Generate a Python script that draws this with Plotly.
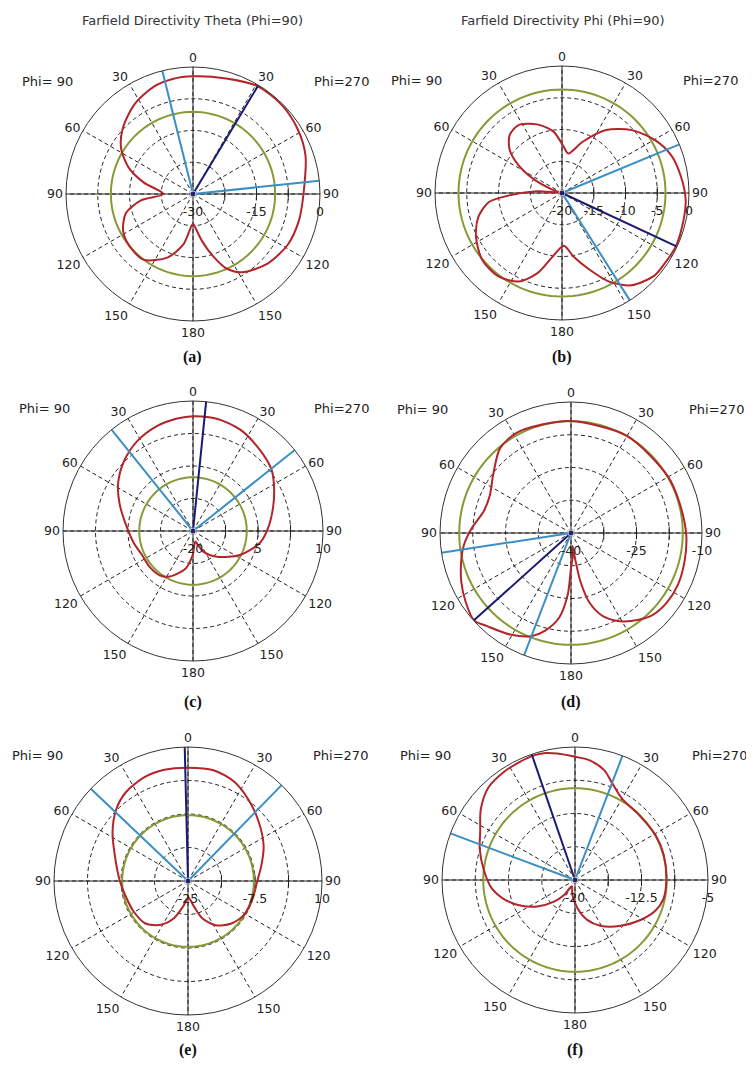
import plotly.graph_objects as go

# ---------------- data (theta in degrees clockwise from top, values in dB) ----------------
# (a) Farfield Directivity Theta (Phi=90)
theta_a = [0, 16, 31, 45, 58, 71, 90, 104, 118, 133, 148, 156, 162, 169, 176, 180, 191, 202, 217, 231,
           242, 254, 263, 270, 283, 292, 302, 313, 327, 340, 350]
db_a = [-2.2, -1.6, -0.3, -0.3, -0.9, -1.9, -3.9, -4.2, -4.6, -5.9, -8.2, -10.8, -14.5, -18.6, -22.0, -23.0,
        -17.8, -13.8, -10.6, -10.6, -11.3, -13.5, -17.6, -23.0, -18.1, -13.7, -10.0, -7.3, -4.7, -3.0, -2.4]
green_a = -10.6
beam_a = [346, 84]
main_a_theta, main_a_db = 31, -0.24
range_a = [-30, 0]
rtick_a = [-30, -22.5, -15, -7.5, 0]
rtext_a = ["-30", "", "-15", "", "0"]

# (b) Farfield Directivity Phi (Phi=90)
theta_b = [2, 9, 22, 35, 48, 60, 71, 82, 93, 101, 115, 125, 132, 143, 152, 160, 170, 178, 189, 197, 206,
           217, 230, 243, 254, 263, 268, 274, 281, 290, 296, 303, 310, 318, 327, 340, 352]
db_b = [-12.7, -13.7, -11.3, -7.9, -5.2, -3.2, -1.8, -1.1, -0.5, -0.4, -0.2, -0.4, -0.5, -1.8, -4.2, -7.1,
        -9.9, -11.7, -9.7, -6.8, -4.5, -3.5, -3.6, -4.8, -6.3, -8.4, -12.1, -16.1, -19.5, -18.1, -15.1,
        -11.7, -9.2, -7.7, -7.3, -8.5, -10.2]
green_b = -3.7
beam_b = [67.5, 147.7]
main_b_theta, main_b_db = 115, -0.2
range_b = [-20, 0]
rtick_b = [-20, -15, -10, -5, 0]
rtext_b = ["-20", "-15", "-10", "-5", "0"]

# (c)
theta_c = [0, 12, 25, 39, 52, 62, 74, 88, 100, 117, 137, 153, 161, 168, 181, 191, 207, 217, 230, 245,
           258, 275, 290, 302, 315, 328, 341, 352]
db_c = [6.5, 6.5, 5.8, 4.3, 3.0, 1.2, -0.8, -2.7, -4.3, -7.8, -11.9, -14.6, -16.7, -17.5, -14.4, -11.2,
        -8.2, -7.2, -7.0, -7.0, -6.1, -4.5, -2.0, 0.4, 2.6, 4.4, 5.6, 6.2]
green_c = -7.6
beam_c = [321.2, 51.5]
main_c_theta, main_c_db = 5.8, 10
range_c = [-20, 10]
rtick_c = [-20, -12.5, -5, 2.5, 10]
rtext_c = ["-20", "", "5", "", "10"]

# (d)
theta_d = [0, 30, 60, 75, 91, 104, 116, 126, 135, 142, 151, 159, 165, 169, 171, 173, 176, 180, 183, 188,
           195, 201, 211, 222, 228, 237, 246, 256, 264, 273, 284, 295, 307, 320, 331, 345]
db_d = [-14.35, -14.3, -14.3, -14.2, -13.6, -13.2, -12.8, -12.9, -13.5, -14.8, -16.9, -19.6, -23.4, -28.7,
        -34.2, -37.0, -34.5, -32.0, -25.9, -20.4, -16.8, -14.7, -12.9, -11.3, -10.1, -11.2, -12.5, -14.1,
        -15.4, -17.3, -19.4, -19.5, -17.7, -14.7, -13.9, -14.3]
green_d = -14.4
beam_d = [261.3, 201]
main_d_theta, main_d_db = 228, -10.1
range_d = [-40, -10]
rtick_d = [-40, -32.5, -25, -17.5, -10]
rtext_d = ["-40", "", "-25", "", "-10"]

# (e)
theta_e = [0, 13, 25, 37, 50, 65, 78, 90, 106, 121, 135, 148, 159, 167, 179, 191, 201, 212, 225, 241,
           257, 270, 289, 303, 315, 325, 337, 348]
db_e = [4.6, 4.7, 3.6, 1.4, -0.9, -3.2, -5.4, -6.9, -7.5, -7.9, -9.2, -11.4, -14.6, -18.2, -20.7, -18.2,
        -14.5, -11.5, -9.3, -8.7, -8.2, -7.2, -4.8, -1.5, 1.5, 3.3, 4.4, 4.7]
green_e = -7.8
beam_e = [313.5, 44.3]
main_e_theta, main_e_db = 358.6, 10
range_e = [-25, 10]
rtick_e = [-25, -16.25, -7.5, 1.25, 10]
rtext_e = ["-25", "", "-7.5", "", "10"]

# (f)
theta_f = [0, 7, 15, 21, 30, 44, 61, 74, 90, 102, 111, 121, 135, 151, 163, 175, 190, 207, 216, 224, 235,
           245, 255, 265, 277, 288, 297, 307, 317, 327, 335, 341, 347, 352]
db_f = [-6.1, -6.4, -7.2, -8.3, -9.4, -9.7, -9.6, -9.6, -9.7, -9.8, -10.3, -11.3, -12.7, -14.1, -15.3,
        -16.8, -18.3, -19.2, -17.9, -16.6, -14.8, -13.2, -11.7, -10.5, -9.6, -8.7, -8.0, -6.7, -5.7, -5.4,
        -5.3, -5.2, -5.3, -5.6]
green_f = -9.65
beam_f = [290.5, 20.9]
main_f_theta, main_f_db = 341, -5
range_f = [-20, -5]
rtick_f = [-20, -16.25, -12.5, -8.75, -5]
rtext_f = ["-20", "", "-12.5", "", "-5"]

ang_vals = [0, 30, 60, 90, 120, 150, 180, 210, 240, 270, 300, 330]
ang_text = ["0", "30", "60", "90", "120", "150", "180", "150", "120", "90", "60", "30"]
captions = ["(a)", "(b)", "(c)", "(d)", "(e)", "(f)"]
col_titles = ["Farfield Directivity Theta (Phi=90)", "Farfield Directivity Phi (Phi=90)"]

# ---------------- layout geometry (pixels, page coordinates) ----------------
OFF = 8                    # page body margin of the html page
W, H = 754 - 2 * OFF, 1070 - 2 * OFF
panels = [
    dict(cx=193, cy=194, R=127, th=theta_a, db=db_a, g=green_a, beam=beam_a, mt=main_a_theta, md=main_a_db,
         rng=range_a, tv=rtick_a, tt=rtext_a, cap_y=357, phiL=(47, 82), phiR=(341, 82)),
    dict(cx=562, cy=193, R=127, th=theta_b, db=db_b, g=green_b, beam=beam_b, mt=main_b_theta, md=main_b_db,
         rng=range_b, tv=rtick_b, tt=rtext_b, cap_y=357, phiL=(416, 80), phiR=(710, 80)),
    dict(cx=193, cy=531, R=130, th=theta_c, db=db_c, g=green_c, beam=beam_c, mt=main_c_theta, md=main_c_db,
         rng=range_c, tv=rtick_c, tt=rtext_c, cap_y=702, phiL=(44, 408), phiR=(341, 408)),
    dict(cx=571, cy=533, R=131, th=theta_d, db=db_d, g=green_d, beam=beam_d, mt=main_d_theta, md=main_d_db,
         rng=range_d, tv=rtick_d, tt=rtext_d, cap_y=702, phiL=(422, 410), phiR=(716, 410)),
    dict(cx=188, cy=881, R=134, th=theta_e, db=db_e, g=green_e, beam=beam_e, mt=main_e_theta, md=main_e_db,
         rng=range_e, tv=rtick_e, tt=rtext_e, cap_y=1050, phiL=(37, 755), phiR=(340, 755)),
    dict(cx=575, cy=880, R=133, th=theta_f, db=db_f, g=green_f, beam=beam_f, mt=main_f_theta, md=main_f_db,
         rng=range_f, tv=rtick_f, tt=rtext_f, cap_y=1050, phiL=(425, 755), phiR=(719, 755)),
]

RED = "#B3242B"
GREEN = "#869A36"
LBLUE = "#3A8FC4"
NAVY = "#1A1A70"
AXC = "#222222"
FONT = "DejaVu Sans"
DASH = "4px,3px"


def px(x):
    return (x - OFF) / W


def py(y):
    return 1 - (y - OFF) / H


fig = go.Figure()
layout = dict(width=W, height=H, margin=dict(l=0, r=0, t=0, b=0), showlegend=False,
              paper_bgcolor="white", plot_bgcolor="white", annotations=[])

circle_theta = list(range(0, 361, 3))

for i, p in enumerate(panels):
    sp = "polar" if i == 0 else f"polar{i + 1}"
    rmin, rmax = p["rng"]
    # solid main axes
    fig.add_trace(go.Scatterpolar(r=[rmax, rmin, rmax], theta=[0, 0, 180], mode="lines",
                                  line=dict(color=AXC, width=1), subplot=sp, hoverinfo="skip"))
    fig.add_trace(go.Scatterpolar(r=[rmax, rmin, rmax], theta=[90, 90, 270], mode="lines",
                                  line=dict(color=AXC, width=1), subplot=sp, hoverinfo="skip"))
    # small ring ticks on the horizontal axis
    fig.add_trace(go.Scatterpolar(r=p["tv"][1:-1], theta=[90] * (len(p["tv"]) - 2), mode="markers",
                                  marker=dict(symbol="line-ns", size=9, line=dict(color=AXC, width=1)),
                                  subplot=sp, hoverinfo="skip"))
    # green level circle
    fig.add_trace(go.Scatterpolar(r=[p["g"]] * len(circle_theta), theta=circle_theta, mode="lines",
                                  line=dict(color=GREEN, width=2), subplot=sp))
    # red pattern
    th = p["th"] + [p["th"][0]]
    db = p["db"] + [p["db"][0]]
    fig.add_trace(go.Scatterpolar(r=db, theta=th, mode="lines",
                                  line=dict(color=RED, width=2, shape="spline", smoothing=0.8), subplot=sp))
    # beamwidth lines
    for a in p["beam"]:
        fig.add_trace(go.Scatterpolar(r=[rmin, rmax], theta=[a, a], mode="lines",
                                      line=dict(color=LBLUE, width=2), subplot=sp))
    # main lobe direction
    fig.add_trace(go.Scatterpolar(r=[rmin, p["md"]], theta=[p["mt"], p["mt"]], mode="lines+markers",
                                  marker=dict(size=[6, 0], color=NAVY),
                                  line=dict(color=NAVY, width=2), subplot=sp))

    cx, cy, R = p["cx"], p["cy"], p["R"]
    layout[sp] = dict(
        domain=dict(x=[px(cx - R), px(cx + R)], y=[py(cy + R), py(cy - R)]),
        bgcolor="rgba(0,0,0,0)",
        angularaxis=dict(rotation=90, direction="clockwise", tickmode="array", tickvals=ang_vals,
                         ticktext=ang_text, showline=True, linecolor="#333333", linewidth=1,
                         gridcolor=AXC, griddash=DASH, gridwidth=1, ticks="",
                         tickfont=dict(family=FONT, size=12.5, color="#222")),
        radialaxis=dict(range=[rmin, rmax], tickmode="array", tickvals=p["tv"], ticktext=p["tt"],
                        angle=0, showline=False, gridcolor=AXC, griddash=DASH, gridwidth=1,
                        ticks="outside", ticklen=6, tickcolor="rgba(0,0,0,0)", tickangle=0,
                        tickfont=dict(family=FONT, size=12.5, color="#222")),
    )
    ann = layout["annotations"]
    ann.append(dict(text="Phi= 90", x=px(p["phiL"][0]), y=py(p["phiL"][1]), xref="paper", yref="paper",
                    showarrow=False, xanchor="center", yanchor="middle",
                    font=dict(family=FONT, size=13, color="#222")))
    ann.append(dict(text="Phi=270", x=px(p["phiR"][0]), y=py(p["phiR"][1]), xref="paper", yref="paper",
                    showarrow=False, xanchor="center", yanchor="middle",
                    font=dict(family=FONT, size=13, color="#222")))
    ann.append(dict(text="<b>" + captions[i] + "</b>", x=px(cx), y=py(p["cap_y"]), xref="paper",
                    yref="paper", showarrow=False, xanchor="center", yanchor="middle",
                    font=dict(family="Liberation Serif", size=16, color="#111")))

for j, t in enumerate(col_titles):
    layout["annotations"].append(dict(text=t, x=px(192 if j == 0 else 563), y=py(21), xref="paper",
                                      yref="paper", showarrow=False, xanchor="center", yanchor="middle",
                                      font=dict(family=FONT, size=13, color="#333")))

fig.update_layout(**layout)
fig.write_html("out.html")
